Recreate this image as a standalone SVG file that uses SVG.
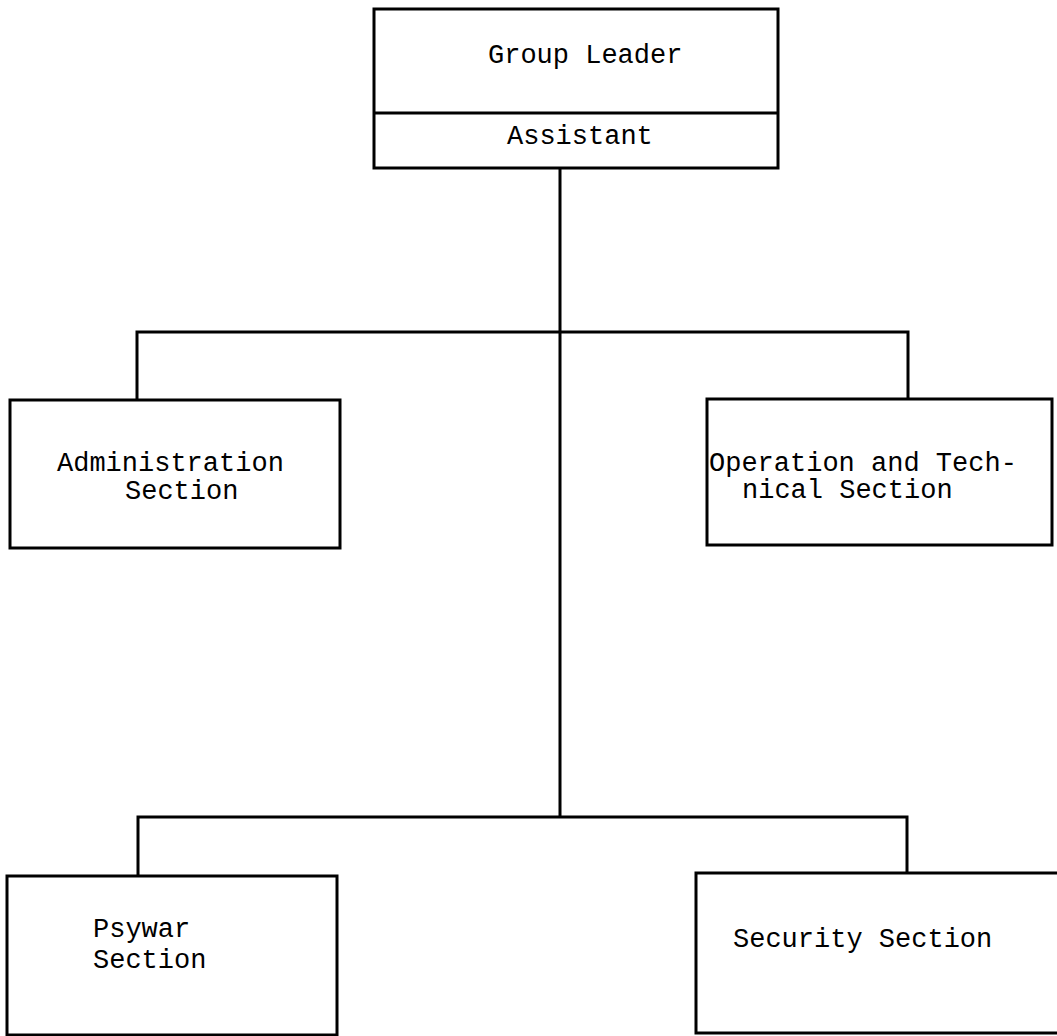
<svg xmlns="http://www.w3.org/2000/svg" width="1057" height="1036" viewBox="0 0 1057 1036">
<style>
.box{fill:#fff;stroke:#000;stroke-width:3}
.ln{fill:none;stroke:#000;stroke-width:3}
text{font-family:"Liberation Mono","Courier New",monospace;font-size:27px;fill:#000}
</style>
<rect width="1057" height="1036" fill="#fff"/>
<g id="connectors">
<path class="ln" d="M560 168V817"/>
<path class="ln" d="M137 400V332H908V399"/>
<path class="ln" d="M138 876V817H907V873"/>
</g>
<g id="group-leader">
<rect class="box" x="374" y="9" width="404" height="159"/>
<path class="ln" d="M374 113H778"/>
<text x="488" y="63">Group Leader</text>
<text x="507" y="144">Assistant</text>
</g>
<g id="administration">
<rect class="box" x="10" y="400" width="330" height="148"/>
<text x="57" y="471">Administration</text>
<text x="125" y="499">Section</text>
</g>
<g id="operation">
<rect class="box" x="707" y="399" width="345" height="146"/>
<text x="709" y="471">Operation and Tech-</text>
<text x="742" y="498">nical Section</text>
</g>
<g id="psywar">
<rect class="box" x="7" y="876" width="330" height="159"/>
<text x="93" y="937">Psywar</text>
<text x="93" y="968">Section</text>
</g>
<g id="security">
<rect class="box" x="696" y="873" width="370" height="160"/>
<text x="733" y="947">Security Section</text>
</g>
</svg>
